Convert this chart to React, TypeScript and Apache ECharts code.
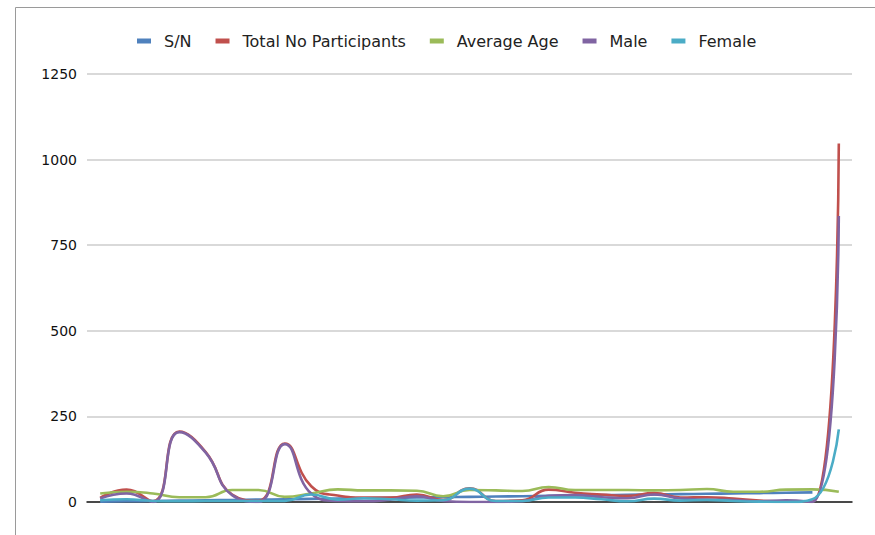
import React, { useEffect, useRef } from "react";
import * as echarts from "echarts";

const categories = [
  "1", "2", "3", "4", "5", "6", "7", "8", "9", "10",
  "11", "12", "13", "14", "15", "16", "17", "18", "19", "20",
  "21", "22", "23", "24", "25", "26", "27", "28", "Total",
];

const serialNo = [1, 2, 3, 4, 5, 6, 7, 8, 9, 10, 11, 12, 13, 14, 15, 16, 17, 18, 19, 20, 21, 22, 23, 24, 25, 26, 27, 28, null];
const totalParticipants = [12, 36, 2, 206, 146, 22, 3, 171, 46, 19, 13, 13, 22, 6, 40, 3, 5, 36, 27, 22, 18, 26, 13, 14, 10, 4, 2, 1, 1047];
const averageAge = [25, 30, 25, 14, 14, 35, 35, 15, 25, 37, 34, 34, 33, 17, 35, 34, 32, 44, 35, 35, 35, 34, 35, 38, 30, 30, 36, 37, 30];
const male = [10, 25, 0, 204, 144, 20, 0, 169, 25, 3, 2, 7, 17, 3, 0, 0, 2, 18, 20, 14, 11, 22, 10, 7, 6, 2, 5, 0, 835];
const female = [5, 8, 3, 2, 3, 3, 3, 3, 22, 7, 11, 8, 4, 5, 39, 3, 3, 13, 13, 8, 2, 10, 4, 6, 3, 1, 0, 8, 212];

const yTicks = { min: 0, max: 1250, interval: 250 };

export default function App() {
  const ref = useRef<HTMLDivElement>(null);
  useEffect(() => {
    if (!ref.current) return;
    const chart = echarts.init(ref.current, undefined, { renderer: "svg" });
    const font = "DejaVu Sans";
    const mk = (name: string, data: (number | null)[], color: string) => ({
      name,
      type: "line",
      data,
      smooth: 0.5,
      showSymbol: false,
      symbol: "none",
      connectNulls: false,
      lineStyle: { color, width: 2.6 },
      itemStyle: { color },
    });
    chart.setOption({
      animation: false,
      backgroundColor: "#ffffff",
      textStyle: { fontFamily: font },
      graphic: [
        {
          type: "rect",
          shape: { x: 15.5, y: 7.5, width: 900, height: 600 },
          style: { fill: "none", stroke: "#9a9a9a", lineWidth: 1 },
          silent: true,
        },
      ],
      legend: {
        top: 28,
        left: 132,
        icon: "rect",
        itemWidth: 14,
        itemHeight: 5,
        itemGap: 24,
        textStyle: { fontFamily: font, fontSize: 16, color: "#222", padding: [0, 0, 0, 8] },
        data: ["S/N", "Total No Participants", "Average Age", "Male", "Female"],
      },
      grid: { left: 87, right: 23, top: 74, bottom: 33, containLabel: false },
      xAxis: {
        type: "category",
        data: categories,
        boundaryGap: true,
        axisLine: { show: true, lineStyle: { color: "#1a1a1a", width: 1.5 } },
        axisTick: { show: false },
        axisLabel: { show: false },
        splitLine: { show: false },
      },
      yAxis: {
        type: "value",
        min: yTicks.min,
        max: yTicks.max,
        interval: yTicks.interval,
        axisLine: { show: false },
        axisTick: { show: false },
        axisLabel: {
          fontFamily: font,
          fontSize: 14,
          color: "#111",
          margin: 10,
          formatter: (v: number) => String(v),
        },
        splitLine: { show: true, lineStyle: { color: "#d9d9d9", width: 2 } },
      },
      series: [
        mk("S/N", serialNo, "#4F81BD"),
        mk("Total No Participants", totalParticipants, "#C0504D"),
        mk("Average Age", averageAge, "#9BBB59"),
        mk("Male", male, "#8064A2"),
        mk("Female", female, "#4BACC6"),
      ],
    });
    return () => chart.dispose();
  }, []);
  return (
    <div
      ref={ref}
      style={{ position: "fixed", left: 0, top: 0, width: 875, height: 535, background: "#fff" }}
    />
  );
}
